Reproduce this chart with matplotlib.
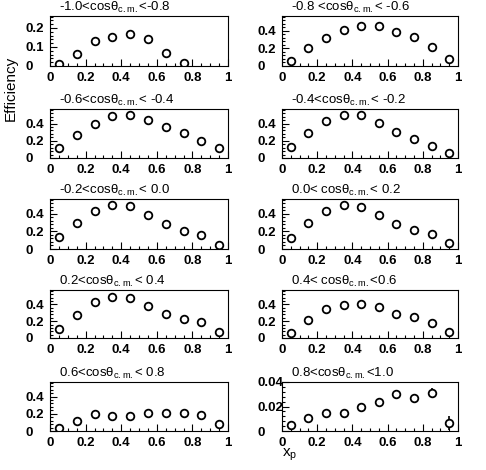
import matplotlib
matplotlib.use("Agg")
import matplotlib.pyplot as plt
from matplotlib.ticker import MultipleLocator
import numpy as np

plt.rcParams['font.family'] = ['Liberation Sans', 'DejaVu Sans']
plt.rcParams['mathtext.fontset'] = 'custom'
plt.rcParams['mathtext.rm'] = 'Liberation Sans'
plt.rcParams['mathtext.it'] = 'Liberation Sans:italic'

xp = [0.05, 0.15, 0.25, 0.35, 0.45, 0.55, 0.65, 0.75, 0.85, 0.95]

titles = [
    "-1.0<cos\u03b8$_{\\rm c.m.}$<-0.8",
    "-0.8 <cos\u03b8$_{\\rm c.m.}$< -0.6",
    "-0.6<cos\u03b8$_{\\rm c.m.}$< -0.4",
    "-0.4<cos\u03b8$_{\\rm c.m.}$< -0.2",
    "-0.2<cos\u03b8$_{\\rm c.m.}$< 0.0",
    "0.0< cos\u03b8$_{\\rm c.m.}$< 0.2",
    "0.2<cos\u03b8$_{\\rm c.m.}$< 0.4",
    "0.4< cos\u03b8$_{\\rm c.m.}$<0.6",
    "0.6<cos\u03b8$_{\\rm c.m.}$< 0.8",
    "0.8<cos\u03b8$_{\\rm c.m.}$<1.0",
]

eff = [
    [0.010, 0.064, 0.129, 0.155, 0.166, 0.141, 0.066, 0.018],
    [0.060, 0.200, 0.320, 0.408, 0.460, 0.452, 0.388, 0.328, 0.216, 0.084],
    [0.113, 0.272, 0.396, 0.485, 0.505, 0.447, 0.357, 0.295, 0.194, 0.117],
    [0.125, 0.294, 0.431, 0.498, 0.498, 0.404, 0.306, 0.220, 0.137, 0.059],
    [0.134, 0.298, 0.435, 0.500, 0.485, 0.393, 0.290, 0.210, 0.156, 0.046],
    [0.130, 0.293, 0.430, 0.503, 0.476, 0.389, 0.290, 0.213, 0.175, 0.072],
    [0.102, 0.272, 0.423, 0.490, 0.479, 0.381, 0.290, 0.226, 0.185, 0.075],
    [0.064, 0.219, 0.347, 0.392, 0.408, 0.366, 0.290, 0.245, 0.181, 0.075],
    [0.034, 0.116, 0.194, 0.179, 0.179, 0.206, 0.209, 0.213, 0.191, 0.082],
    [0.0052, 0.0105, 0.0143, 0.0149, 0.0193, 0.0234, 0.0298, 0.0268, 0.0314, 0.0066],
]
# only the last panel has visible error bars
err_last = [0.0005, 0.0007, 0.0008, 0.0009, 0.0011, 0.0013, 0.0017, 0.0018, 0.0040, 0.0060]

ymax = [0.263, 0.57, 0.57, 0.57, 0.57, 0.57, 0.57, 0.57, 0.57, 0.04]
ymajor = [0.1, 0.2, 0.2, 0.2, 0.2, 0.2, 0.2, 0.2, 0.2, 0.02]
yminor = [0.02, 0.04, 0.04, 0.04, 0.04, 0.04, 0.04, 0.04, 0.04, 0.004]

W, H = 486, 470
fig = plt.figure(figsize=(W / 100, H / 100), dpi=100)

col_x = [(50, 178), (282, 176)]
row_y = [(16, 66), (109, 158), (199, 249), (290, 338), (382, 431)]

for i in range(10):
    r, c = i // 2, i % 2
    x0, w = col_x[c]
    top, bot = row_y[r]
    ax = fig.add_axes([x0 / W, 1 - bot / H, w / W, (bot - top) / H])
    xs = xp[:len(eff[i])]
    if i == 9:
        ax.errorbar(xs, eff[i], yerr=err_last, fmt='o', mfc='white', mec='black',
                    ecolor='black', ms=5.5, mew=1.3, elinewidth=1.2, capsize=0)
    else:
        ax.plot(xs, eff[i], 'o', mfc='white', mec='black', ms=5.5, mew=1.3)
    ax.set_xlim(0, 1)
    ax.set_ylim(0, ymax[i])
    ax.xaxis.set_major_locator(MultipleLocator(0.2))
    ax.xaxis.set_minor_locator(MultipleLocator(0.05))
    ax.yaxis.set_major_locator(MultipleLocator(ymajor[i]))
    ax.yaxis.set_minor_locator(MultipleLocator(yminor[i]))
    ax.xaxis.set_major_formatter(plt.FuncFormatter(lambda v, p: '0' if v == 0 else ('1' if abs(v - 1) < 1e-9 else f"{v:.1f}")))
    if i == 9:
        ax.yaxis.set_major_formatter(plt.FuncFormatter(lambda v, p: '0' if v == 0 else f"{v:.2f}"))
    else:
        ax.yaxis.set_major_formatter(plt.FuncFormatter(lambda v, p: '0' if v == 0 else f"{v:.1f}"))
    ax.tick_params(which='both', direction='in', top=False, right=False, width=0.8)
    ax.tick_params(which='major', length=5)
    ax.tick_params(which='minor', length=2.5)
    ax.tick_params(axis='x', labelsize=9.5, pad=4.5)
    ax.tick_params(axis='y', labelsize=9.5, pad=18)
    for lab in ax.get_xticklabels() + ax.get_yticklabels():
        lab.set_fontweight('bold')
    for lab in ax.get_yticklabels():
        lab.set_horizontalalignment('left')
    for s in ax.spines.values():
        s.set_linewidth(0.8)
    ax.text(0.05, 1.02, titles[i], transform=ax.transAxes, ha='left', va='bottom', fontsize=9.5)

fig.text(11 / W, 1 - 88 / H, 'Efficiency', rotation=90, ha='center', va='center', fontsize=11)
fig.text(290 / W, 1 - 455 / H, 'x$_{\\rm p}$', ha='center', va='center', fontsize=11)

fig.savefig('out.png', dpi=100)
